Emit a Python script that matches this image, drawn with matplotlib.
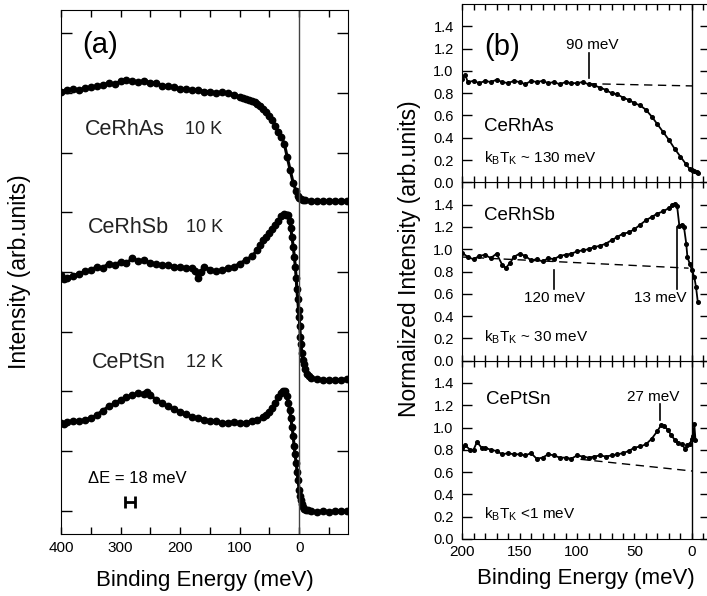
import numpy as np
import matplotlib.pyplot as plt
from matplotlib.ticker import MultipleLocator

plt.rcParams['font.family'] = ['Liberation Sans', 'DejaVu Sans']
plt.rcParams['mathtext.fontset'] = 'custom'
plt.rcParams['mathtext.rm'] = 'Liberation Sans'

# ---- panel (a): raw spectra (offset), binding energy in meV ----
e_rhas = [400, 390, 380, 370, 360, 350, 340, 330, 320, 310, 300, 290, 280, 270, 260, 250,
          240, 230, 220, 210, 200, 190, 180, 170, 160, 150, 140, 130, 120, 110, 100, 95,
          90, 85, 80, 75, 70, 65, 60, 55, 50, 45, 40, 35, 30, 25, 20, 15, 10, 5, 2, 0,
          -3, -6, -10, -20, -30, -40, -50, -60, -70, -80]
i_rhas = [7.02, 7.05, 7.06, 7.04, 7.08, 7.09, 7.11, 7.13, 7.16, 7.15, 7.19, 7.21, 7.19, 7.18,
          7.20, 7.17, 7.16, 7.12, 7.11, 7.09, 7.06, 7.07, 7.04, 7.05, 7.02, 7.02, 7.00, 7.01,
          6.99, 6.97, 6.93, 6.92, 6.90, 6.88, 6.87, 6.84, 6.81, 6.77, 6.72, 6.67, 6.61, 6.55,
          6.44, 6.34, 6.26, 6.15, 5.92, 5.70, 5.49, 5.35, 5.27, 5.24, 5.22, 5.21, 5.20, 5.19,
          5.19, 5.18, 5.19, 5.19, 5.19, 5.19]

e_rhsb = [400, 395, 390, 380, 370, 360, 350, 340, 330, 320, 310, 300, 290, 280, 270, 260,
          250, 240, 230, 220, 210, 200, 190, 180, 175, 170, 165, 160, 150, 140, 130, 120,
          110, 100, 90, 80, 70, 65, 60, 55, 50, 45, 40, 35, 30, 25, 22, 20, 18, 16, 14, 12,
          10, 8, 6.5, 5, 4, 2.5, 1, 0, -1, -2, -3, -4.5, -6, -7.5, -10, -13, -16, -20, -30,
          -40, -50, -60, -70, -80]
i_rhsb = [3.95, 3.89, 3.90, 3.94, 3.97, 4.01, 4.03, 4.09, 4.07, 4.14, 4.12, 4.17, 4.15, 4.23,
          4.18, 4.20, 4.15, 4.14, 4.11, 4.12, 4.08, 4.09, 4.07, 4.06, 4.02, 3.90, 4.00, 4.09,
          4.04, 4.01, 4.03, 4.06, 4.09, 4.14, 4.20, 4.26, 4.37, 4.45, 4.54, 4.58, 4.65, 4.72,
          4.79, 4.86, 4.93, 4.97, 4.96, 4.95, 4.95, 4.85, 4.73, 4.58, 4.42, 4.25, 4.09, 3.90,
          3.72, 3.55, 3.36, 3.24, 3.10, 2.92, 2.80, 2.64, 2.53, 2.46, 2.37, 2.30, 2.26, 2.23,
          2.21, 2.20, 2.19, 2.19, 2.20, 2.21]

e_ptsn = [400, 395, 390, 380, 370, 360, 350, 340, 330, 320, 310, 300, 290, 280, 270, 260,
          255, 250, 240, 230, 220, 210, 200, 190, 180, 170, 160, 150, 140, 130, 120, 110,
          100, 90, 80, 70, 60, 55, 50, 45, 40, 35, 30, 27, 24, 21, 18, 16, 14, 12, 10, 8.5,
          7, 5, 3.5, 2, 0, -1.5, -3, -4.5, -6, -8, -11, -14, -20, -30, -40, -50, -60, -70, -80]
i_ptsn = [1.48, 1.46, 1.49, 1.51, 1.50, 1.53, 1.55, 1.61, 1.68, 1.75, 1.80, 1.86, 1.90, 1.94,
          1.97, 1.96, 1.99, 1.94, 1.86, 1.80, 1.75, 1.70, 1.66, 1.62, 1.58, 1.55, 1.53, 1.51,
          1.50, 1.47, 1.48, 1.49, 1.47, 1.48, 1.50, 1.53, 1.58, 1.61, 1.66, 1.72, 1.80, 1.90,
          1.98, 2.01, 2.00, 1.92, 1.80, 1.69, 1.55, 1.41, 1.25, 1.08, 0.95, 0.80, 0.65, 0.52,
          0.35, 0.25, 0.18, 0.12, 0.07, 0.04, 0.02, 0.01, 0.00, -0.01, 0.00, -0.01, 0.00, 0.00,
          0.00]

# ---- panel (b): normalized spectra ----
eb_rhas = [200, 197, 195, 190, 185, 180, 175, 170, 165, 160, 155, 150, 145, 140, 135, 130,
           125, 120, 115, 110, 105, 100, 95, 90, 85, 80, 75, 70, 65, 60, 55, 50, 45, 40, 35,
           30, 25, 20, 15, 10, 5, 2, 0, -2, -4, -5]
nb_rhas = [0.93, 0.96, 0.90, 0.91, 0.89, 0.91, 0.90, 0.92, 0.90, 0.89, 0.91, 0.90, 0.88, 0.91,
           0.90, 0.91, 0.89, 0.90, 0.88, 0.90, 0.89, 0.89, 0.90, 0.88, 0.87, 0.85, 0.83, 0.80,
           0.79, 0.76, 0.74, 0.71, 0.69, 0.65, 0.59, 0.52, 0.45, 0.38, 0.30, 0.23, 0.16, 0.12,
           0.11, 0.10, 0.09, 0.08]

eb_rhsb = [200, 195, 190, 185, 180, 175, 170, 165, 162, 158, 155, 150, 145, 140, 135, 130,
           125, 120, 115, 110, 105, 100, 95, 90, 85, 80, 75, 70, 65, 60, 55, 50, 45, 40, 35,
           30, 25, 20, 17, 15, 13, 11, 9, 7, 5, 4, 2, 0, -2, -3.5, -5]
nb_rhsb = [0.97, 0.93, 0.91, 0.94, 0.95, 0.92, 0.96, 0.86, 0.83, 0.88, 0.93, 0.96, 0.94, 0.90,
           0.91, 0.89, 0.92, 0.91, 0.94, 0.95, 0.96, 0.98, 0.99, 1.00, 1.02, 1.03, 1.05, 1.08,
           1.11, 1.14, 1.15, 1.18, 1.22, 1.26, 1.29, 1.32, 1.34, 1.37, 1.40, 1.41, 1.39, 1.21,
           1.22, 1.20, 1.05, 0.93, 0.87, 0.81, 0.75, 0.66, 0.53]

eb_ptsn = [200, 197, 193, 190, 187, 183, 180, 175, 170, 165, 160, 155, 150, 145, 140, 135,
           130, 125, 120, 115, 110, 105, 100, 95, 90, 85, 80, 75, 70, 65, 60, 55, 50, 45, 40,
           35, 30, 27, 24, 21, 18, 15, 12, 9, 6, 4, 2, 0, -1, -2, -3]
nb_ptsn = [0.82, 0.84, 0.80, 0.80, 0.87, 0.82, 0.82, 0.80, 0.79, 0.76, 0.77, 0.76, 0.76, 0.75,
           0.77, 0.72, 0.73, 0.76, 0.75, 0.73, 0.73, 0.72, 0.75, 0.74, 0.73, 0.74, 0.75, 0.74,
           0.75, 0.76, 0.77, 0.79, 0.82, 0.83, 0.85, 0.90, 0.97, 1.02, 1.01, 0.98, 0.93, 0.89,
           0.86, 0.85, 0.81, 0.84, 0.85, 0.90, 0.92, 1.03, 0.89]

# dashed background lines (start, end) for panel (b)
bg_rhas = ([90, 0], [0.885, 0.865])
bg_rhsb = ([200, 3], [0.93, 0.83])
bg_ptsn = ([97, 0], [0.715, 0.61])

W, H = 707, 596
fig = plt.figure(figsize=(W / 100, H / 100), dpi=100)

# ---------------- panel (a) ----------------
axa = fig.add_axes([61 / W, (H - 534) / H, 287 / W, 524 / H])
for e, i in [(e_rhas, i_rhas), (e_rhsb, i_rhsb), (e_ptsn, i_ptsn)]:
    axa.plot(e, i, '-o', color='k', ms=4.6, lw=2.2)
axa.axvline(0, color='#444444', lw=1.0)
axa.set_xlim(400, -82)
axa.set_ylim(-0.385, 8.385)
axa.xaxis.set_major_locator(MultipleLocator(100))
axa.xaxis.set_minor_locator(MultipleLocator(50))
axa.set_yticks(range(9))
axa.set_yticklabels([])
axa.tick_params(axis='x', which='both', direction='in', top=True, length=5, width=1,
                labelsize=11, pad=5)
axa.tick_params(axis='y', which='both', direction='in', right=True, length=8, width=1)
axa.set_xlabel('Binding Energy (meV)', fontsize=16)
axa.xaxis.set_label_coords(0.5, -0.068)
axa.set_ylabel('Intensity (arb.units)', fontsize=16.5)
axa.yaxis.set_label_coords(-0.105, 0.5)

axa.text(365, 7.8, '(a)', fontsize=21, va='center', ha='left')
axa.text(360, 6.38, 'CeRhAs', fontsize=15.5, va='center', color='#222222')
axa.text(192, 6.38, '10 K', fontsize=13, va='center', color='#222222')
axa.text(355, 4.74, 'CeRhSb', fontsize=15.5, va='center', color='#222222')
axa.text(190, 4.74, '10 K', fontsize=13, va='center', color='#222222')
axa.text(348, 2.49, 'CePtSn', fontsize=15.5, va='center', color='#222222')
axa.text(190, 2.49, '12 K', fontsize=13, va='center', color='#222222')
axa.text(355, 0.55, '\u0394E = 18 meV', fontsize=12, va='center')
axa.errorbar([284], [0.15], xerr=[9], color='k', lw=2, capsize=4, capthick=2)

# ---------------- panel (b) ----------------
x0, x1 = 462, 710.4
top, bot = 4, 539
ph = (bot - top) / 3
axes_b = []
for k in range(3):
    ax = fig.add_axes([x0 / W, (H - (bot - k * ph)) / H, (x1 - x0) / W, ph / H])
    axes_b.append(ax)
ax_bot, ax_mid, ax_top = axes_b

panels = [(ax_top, eb_rhas, nb_rhas, bg_rhas), (ax_mid, eb_rhsb, nb_rhsb, bg_rhsb),
          (ax_bot, eb_ptsn, nb_ptsn, bg_ptsn)]
for ax, e, n, bg in panels:
    ax.plot(e, n, '-o', color='k', ms=2.6, lw=1.3)
    ax.plot(bg[0], bg[1], '--', color='k', lw=1.0, dashes=(6, 4))
    ax.axvline(0, color='k', lw=1.0)
    ax.set_xlim(200, -16)
    ax.set_ylim(0, 1.6)
    ax.set_yticks([0.0, 0.2, 0.4, 0.6, 0.8, 1.0, 1.2, 1.4])
    ax.xaxis.set_major_locator(MultipleLocator(50))
    ax.xaxis.set_minor_locator(MultipleLocator(10))
    ax.tick_params(axis='x', which='both', direction='in', top=True, length=4.5, width=1,
                   labelsize=11, pad=4)
    ax.tick_params(axis='y', which='both', direction='in', right=True, length=7, width=1,
                   labelsize=10.5, pad=6)
    if ax is not ax_bot:
        ax.set_xticklabels([])

ax_bot.set_xticks([200, 150, 100, 50, 0])
ax_bot.set_xticklabels(['200', '150', '100', '50', '0'])
ax_bot.set_xlabel('Binding Energy (meV)', fontsize=16)
ax_bot.xaxis.set_label_coords(0.5, -0.16)
ax_mid.set_ylabel('Normalized Intensity (arb.units)', fontsize=16.5)
ax_mid.yaxis.set_label_coords((421 - x0) / (x1 - x0), 0.57)

# annotations, top
ax_top.text(181, 1.21, '(b)', fontsize=21, va='center')
ax_top.text(87, 1.23, '90 meV', fontsize=11, ha='center', va='center')
ax_top.plot([90, 90], [0.94, 1.16], color='k', lw=1.2)
ax_top.text(181, 0.50, 'CeRhAs', fontsize=13.5, va='center')
ax_top.text(181, 0.22, r'$\mathregular{k_BT_K}$ ~ 130 meV', fontsize=11, va='center')

# annotations, middle
ax_mid.text(181, 1.30, 'CeRhSb', fontsize=13.5, va='center')
ax_mid.text(120, 0.56, '120 meV', fontsize=11, ha='center', va='center')
ax_mid.plot([120, 120], [0.64, 0.81], color='k', lw=1.2)
ax_mid.text(28, 0.56, '13 meV', fontsize=11, ha='center', va='center')
ax_mid.plot([13, 13], [0.64, 1.20], color='k', lw=1.2)
ax_mid.text(181, 0.21, r'$\mathregular{k_BT_K}$ ~ 30 meV', fontsize=11, va='center')

# annotations, bottom
ax_bot.text(179, 1.25, 'CePtSn', fontsize=13.5, va='center')
ax_bot.text(33.6, 1.27, '27 meV', fontsize=11, ha='center', va='center')
ax_bot.plot([28, 28], [1.07, 1.21], color='k', lw=1.2)
ax_bot.text(181, 0.22, r'$\mathregular{k_BT_K}$ <1 meV', fontsize=11, va='center')

fig.savefig('out.png', dpi=100)
